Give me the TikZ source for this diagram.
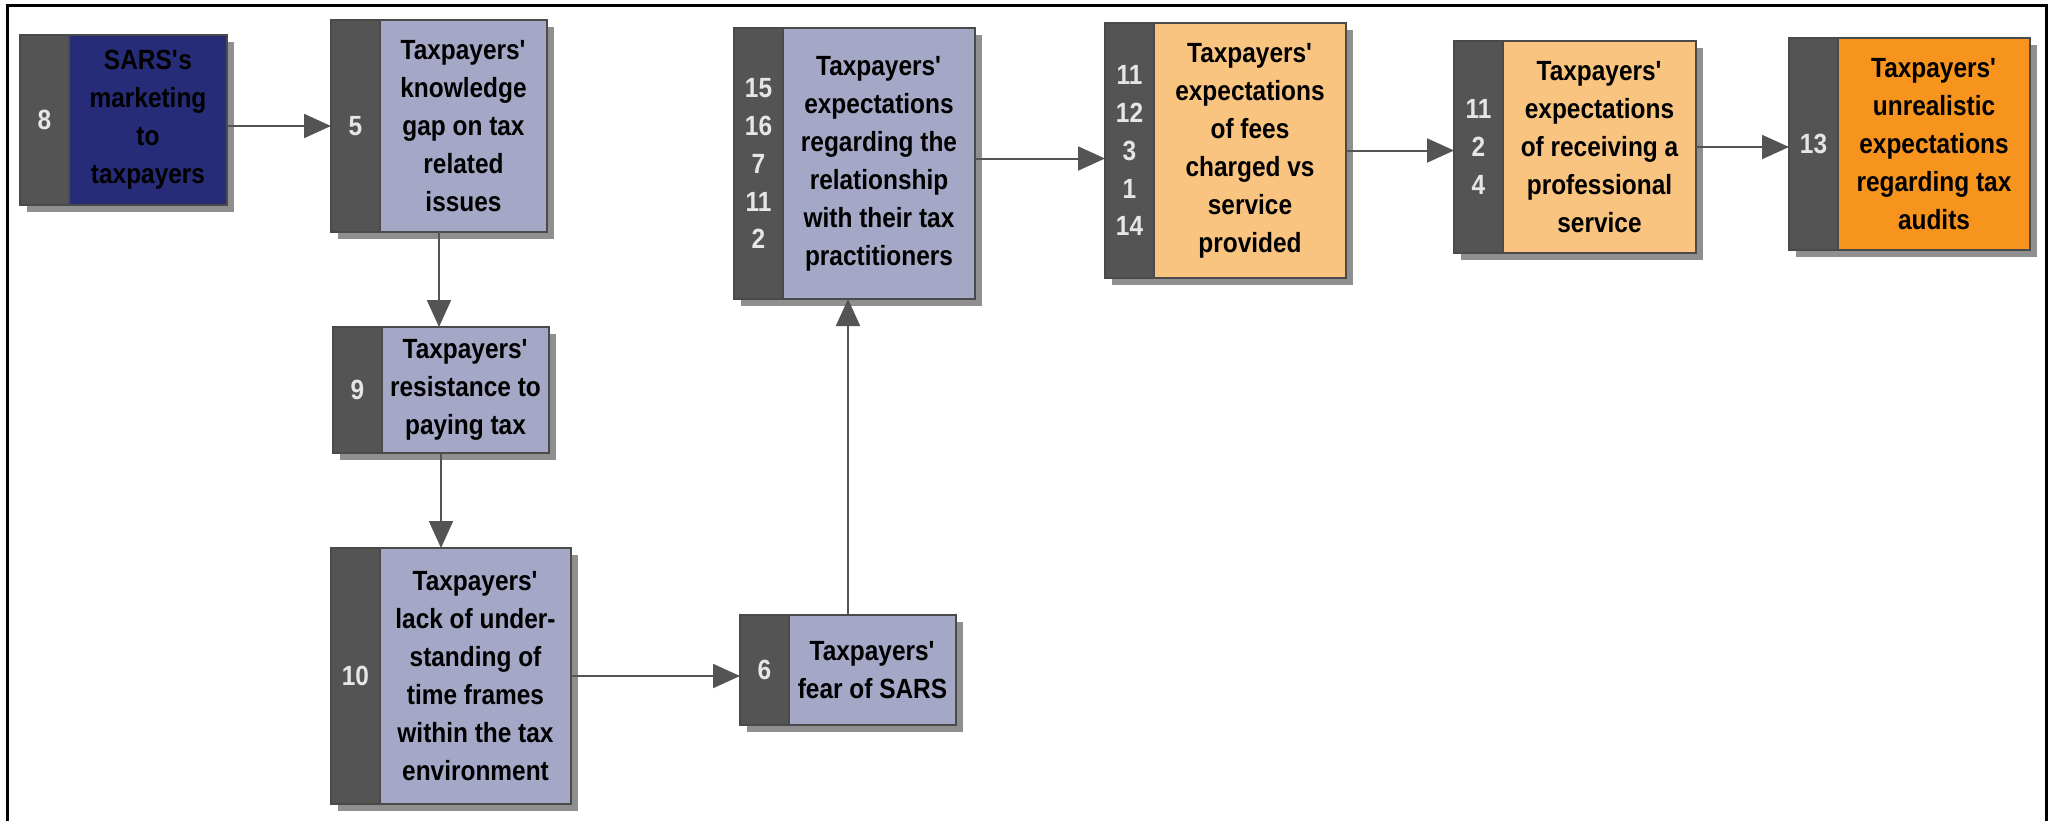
\documentclass[tikz,border=0pt]{standalone}
\usepackage{fontspec}
\setmainfont{Liberation Sans}[FakeStretch=0.88]
\usetikzlibrary{positioning,calc,shadows,arrows.meta}

\definecolor{stripgray}{HTML}{545454}
\definecolor{edgegray}{HTML}{4A4A4A}
\definecolor{shadegray}{HTML}{8F8F8F}
\definecolor{lavender}{HTML}{A4A8C6}
\definecolor{sarsblue}{HTML}{262C78}
\definecolor{paleorange}{HTML}{F9C47F}
\definecolor{deeporange}{HTML}{F7941D}
\definecolor{numwhite}{HTML}{E6E6E6}

\tikzset{
  boxfont/.style={font=\fontsize{7.9}{10.8}\selectfont\bfseries},
  boxshadow/.style={drop shadow={shadow xshift=0.7mm, shadow yshift=-0.7mm, fill=shadegray, opacity=1}},
  numbox/.style={boxfont, boxshadow, fill=stripgray, draw=edgegray, line width=0.15mm,
    text=numwhite, minimum width=4.9mm, inner sep=0pt, outer sep=0pt, align=center, anchor=north west},
  factor/.style={boxfont, boxshadow, draw=edgegray, line width=0.15mm, text=black,
    inner sep=0pt, outer sep=0pt, align=center},
  link/.style={draw=stripgray, line width=0.2mm, -{Triangle[length=2.7mm,width=2.4mm]}},
}

\begin{document}
\begin{tikzpicture}[x=0.1mm, y=-0.1mm]

\useasboundingbox (0,0) rectangle (2053,821);

% frame, open at the bottom
\draw[line width=0.3mm] (7,821) -- (7,5) -- (2046,5) -- (2046,821);

% first column
\node[numbox, minimum height=17mm] (sars-n) at (20,35) {8};
\node[factor, fill=sarsblue, minimum width=15.8mm, minimum height=17mm, right=0pt of sars-n] (sars)
  {SARS\textquotesingle s\\marketing\\to\\taxpayers};

\node[numbox, minimum height=21.2mm] (gap-n) at (331,20) {5};
\node[factor, fill=lavender, minimum width=16.7mm, minimum height=21.2mm, right=0pt of gap-n] (gap)
  {Taxpayers\textquotesingle\\knowledge\\gap on tax\\related\\issues};

\node[numbox, minimum height=12.6mm] (resist-n) at (333,327) {9};
\node[factor, fill=lavender, minimum width=16.7mm, minimum height=12.6mm, right=0pt of resist-n] (resist)
  {Taxpayers\textquotesingle\\resistance to\\paying tax};

\node[numbox, minimum height=25.6mm] (frames-n) at (331,548) {10};
\node[factor, fill=lavender, minimum width=19.1mm, minimum height=25.6mm, right=0pt of frames-n] (frames)
  {Taxpayers\textquotesingle\\lack of under-\\standing of\\time frames\\within the tax\\environment};

% second column
\node[numbox, minimum height=11mm] (fear-n) at (740,615) {6};
\node[factor, fill=lavender, minimum width=16.7mm, minimum height=11mm, right=0pt of fear-n] (fear)
  {Taxpayers\textquotesingle\\fear of SARS};

\node[numbox, minimum height=27.1mm] (relation-n) at (734,28) {15\\16\\7\\11\\2};
\node[factor, fill=lavender, minimum width=19.2mm, minimum height=27.1mm, right=0pt of relation-n] (relation)
  {Taxpayers\textquotesingle\\expectations\\regarding the\\relationship\\with their tax\\practitioners};

% top row
\node[numbox, minimum height=25.5mm] (fees-n) at (1105,23) {11\\12\\3\\1\\14};
\node[factor, fill=paleorange, minimum width=19.2mm, minimum height=25.5mm, right=0pt of fees-n] (fees)
  {Taxpayers\textquotesingle\\expectations\\of fees\\charged vs\\service\\provided};

\node[numbox, minimum height=21.2mm] (service-n) at (1454,41) {11\\2\\4};
\node[factor, fill=paleorange, minimum width=19.3mm, minimum height=21.2mm, right=0pt of service-n] (service)
  {Taxpayers\textquotesingle\\expectations\\of receiving a\\professional\\service};

\node[numbox, minimum height=21.2mm] (audits-n) at (1789,38) {13};
\node[factor, fill=deeporange, minimum width=19.2mm, minimum height=21.2mm, right=0pt of audits-n] (audits)
  {Taxpayers\textquotesingle\\unrealistic\\expectations\\regarding tax\\audits};

% middles of the whole boxes, for the vertical links
\coordinate (gap-c) at ($(gap-n.south west)!.5!(gap.south east)$);
\coordinate (resist-c) at ($(resist-n.south west)!.5!(resist.south east)$);
\coordinate (fear-c) at ($(fear-n.north west)!.5!(fear.north east)$);

% links
\draw[link] (sars.east |- gap-n.west) -- (gap-n.west);
\draw[link] (gap-c) -- (gap-c |- resist-n.north);
\draw[link] (resist-c) -- (resist-c |- frames-n.north);
\draw[link] (frames.east) -- (frames.east -| fear-n.west);
\draw[link] (fear-c) -- (fear-c |- relation-n.south);
\draw[link] ([yshift=0.5mm]relation.east) -- ([yshift=0.5mm]relation.east -| fees-n.west);
\draw[link] (fees.east) -- (fees.east -| service-n.west);
\draw[link] (service.east) -- (service.east -| audits-n.west);

\end{tikzpicture}
\end{document}
